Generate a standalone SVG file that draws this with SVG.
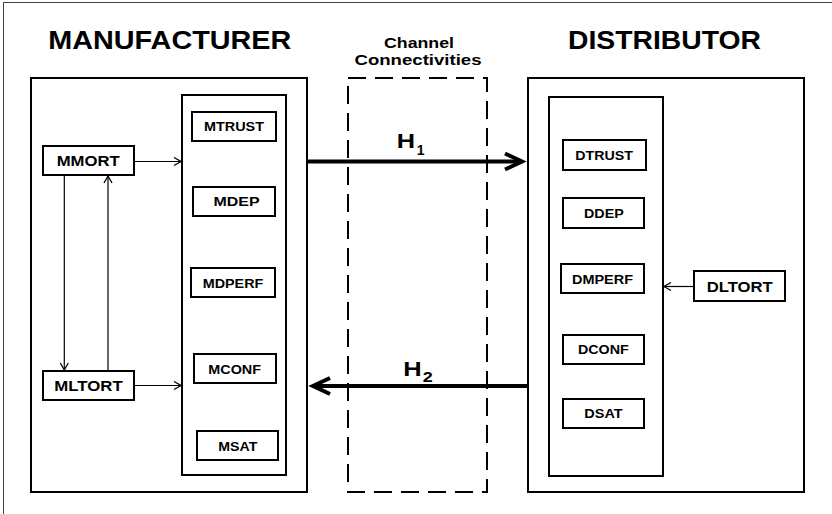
<svg xmlns="http://www.w3.org/2000/svg" width="832" height="514" viewBox="0 0 832 514">
  <defs>
    <style>
      .frame{fill:none;stroke:#444;stroke-width:1}
      .box{fill:#fff;stroke:#000;stroke-width:2}
      .col{fill:none;stroke:#000;stroke-width:2}
      .dash{fill:none;stroke:#000;stroke-width:2;stroke-dasharray:18 9}
      text{font-family:"Liberation Sans",Arial,Helvetica,sans-serif;font-weight:bold;fill:#000}
      .title{font-size:25px}
      .sub{font-size:15px}
      .lbl{font-size:12px}
      .ort{font-size:14px}
      .hl{font-size:21px}
      .hs{font-size:14px}
      .thin{stroke:#000;stroke-width:1.2;fill:none;marker-end:url(#arr)}
      .thick{stroke:#000;stroke-width:4;fill:none;marker-end:url(#arrBig)}
    </style>
    <!-- small open chevron for the thin links -->
    <marker id="arr" viewBox="0 0 12 10" markerWidth="12" markerHeight="10" refX="9" refY="5" orient="auto" markerUnits="userSpaceOnUse">
      <path d="M2,1 L9,5 L2,9" fill="none" stroke="#000" stroke-width="1.3"/>
    </marker>
    <!-- large open chevron for the H flows -->
    <marker id="arrBig" viewBox="0 0 30 22" markerWidth="30" markerHeight="22" refX="20" refY="11" orient="auto" markerUnits="userSpaceOnUse">
      <path d="M3,3 L20,11 L3,19" fill="none" stroke="#000" stroke-width="4"/>
    </marker>
  </defs>

  <rect width="832" height="514" fill="#fff"/>
  <rect class="frame" x="3.5" y="2.5" width="840" height="520"/>

  <!-- headings -->
  <text class="title" x="48.3" y="49" textLength="243" lengthAdjust="spacingAndGlyphs">MANUFACTURER</text>
  <text class="title" x="568" y="49" textLength="193" lengthAdjust="spacingAndGlyphs">DISTRIBUTOR</text>

  <!-- manufacturer side -->
  <g id="manufacturer">
    <rect class="box" x="31" y="78" width="276" height="414"/>
    <rect class="col" x="182" y="95" width="104" height="380"/>
  </g>
  <g id="mtrust"><rect class="box" x="192" y="112" width="84" height="29"/><text class="lbl" x="204" y="131" textLength="60" lengthAdjust="spacingAndGlyphs">MTRUST</text></g>
  <g id="mdep"><rect class="box" x="193" y="187" width="82" height="29"/><text class="lbl" x="213.5" y="206" textLength="46" lengthAdjust="spacingAndGlyphs">MDEP</text></g>
  <g id="mdperf"><rect class="box" x="191" y="268" width="84" height="29"/><text class="lbl" x="202.7" y="287.5" textLength="60.6" lengthAdjust="spacingAndGlyphs">MDPERF</text></g>
  <g id="mconf"><rect class="box" x="194" y="354" width="82" height="29"/><text class="lbl" x="208.3" y="373.5" textLength="52.7" lengthAdjust="spacingAndGlyphs">MCONF</text></g>
  <g id="msat"><rect class="box" x="197" y="431" width="81" height="29"/><text class="lbl" x="218.3" y="450.5" textLength="39" lengthAdjust="spacingAndGlyphs">MSAT</text></g>
  <g id="mmort"><rect class="box" x="43" y="146" width="91" height="29"/><text class="ort" x="56.7" y="166" textLength="63" lengthAdjust="spacingAndGlyphs">MMORT</text></g>
  <g id="mltort"><rect class="box" x="43" y="371" width="91" height="29"/><text class="ort" x="54.3" y="391" textLength="68.4" lengthAdjust="spacingAndGlyphs">MLTORT</text></g>

  <!-- channel between the two firms -->
  <g id="channel">
    <rect class="dash" x="348" y="78" width="139" height="414"/>
    <text class="sub" x="384" y="48" textLength="70" lengthAdjust="spacingAndGlyphs">Channel</text>
    <text class="sub" x="354.5" y="65" textLength="127" lengthAdjust="spacingAndGlyphs">Connectivities</text>
  </g>

  <!-- distributor side -->
  <g id="distributor">
    <rect class="box" x="528" y="78" width="276" height="414"/>
    <rect class="col" x="549" y="97" width="114" height="379"/>
  </g>
  <g id="dtrust"><rect class="box" x="563" y="140" width="83" height="30"/><text class="lbl" x="575.3" y="159.5" textLength="57.7" lengthAdjust="spacingAndGlyphs">DTRUST</text></g>
  <g id="ddep"><rect class="box" x="563" y="198" width="81" height="30"/><text class="lbl" x="584" y="217.8" textLength="39.7" lengthAdjust="spacingAndGlyphs">DDEP</text></g>
  <g id="dmperf"><rect class="box" x="561" y="264" width="83" height="29"/><text class="lbl" x="572" y="283.5" textLength="61" lengthAdjust="spacingAndGlyphs">DMPERF</text></g>
  <g id="dconf"><rect class="box" x="563" y="335" width="81" height="29"/><text class="lbl" x="578" y="354" textLength="50.7" lengthAdjust="spacingAndGlyphs">DCONF</text></g>
  <g id="dsat"><rect class="box" x="563" y="399" width="81" height="29"/><text class="lbl" x="584.3" y="418" textLength="38.3" lengthAdjust="spacingAndGlyphs">DSAT</text></g>
  <g id="dltort"><rect class="box" x="694" y="271" width="91" height="30"/><text class="ort" x="706.7" y="291.8" textLength="66" lengthAdjust="spacingAndGlyphs">DLTORT</text></g>

  <!-- connectors -->
  <g id="connectors">
    <line class="thin" x1="134" y1="161.5" x2="181" y2="161.5"/>
    <line class="thin" x1="134" y1="385.5" x2="181" y2="385.5"/>
    <line class="thin" x1="64.3" y1="175" x2="64.3" y2="370"/>
    <line class="thin" x1="108" y1="371" x2="108" y2="176"/>
    <line class="thin" x1="694" y1="286.5" x2="664" y2="286.5"/>
    <line class="thick" x1="307" y1="161.5" x2="522" y2="161.5"/>
    <line class="thick" x1="528" y1="386" x2="313" y2="386"/>
    <text class="hl" x="396.7" y="148.3" textLength="18.3" lengthAdjust="spacingAndGlyphs">H</text>
    <text class="hs" x="416.7" y="155" textLength="7.8" lengthAdjust="spacingAndGlyphs">1</text>
    <text class="hl" x="403.3" y="376" textLength="18.4" lengthAdjust="spacingAndGlyphs">H</text>
    <text class="hs" x="422.7" y="381.7" textLength="10" lengthAdjust="spacingAndGlyphs">2</text>
  </g>
</svg>
